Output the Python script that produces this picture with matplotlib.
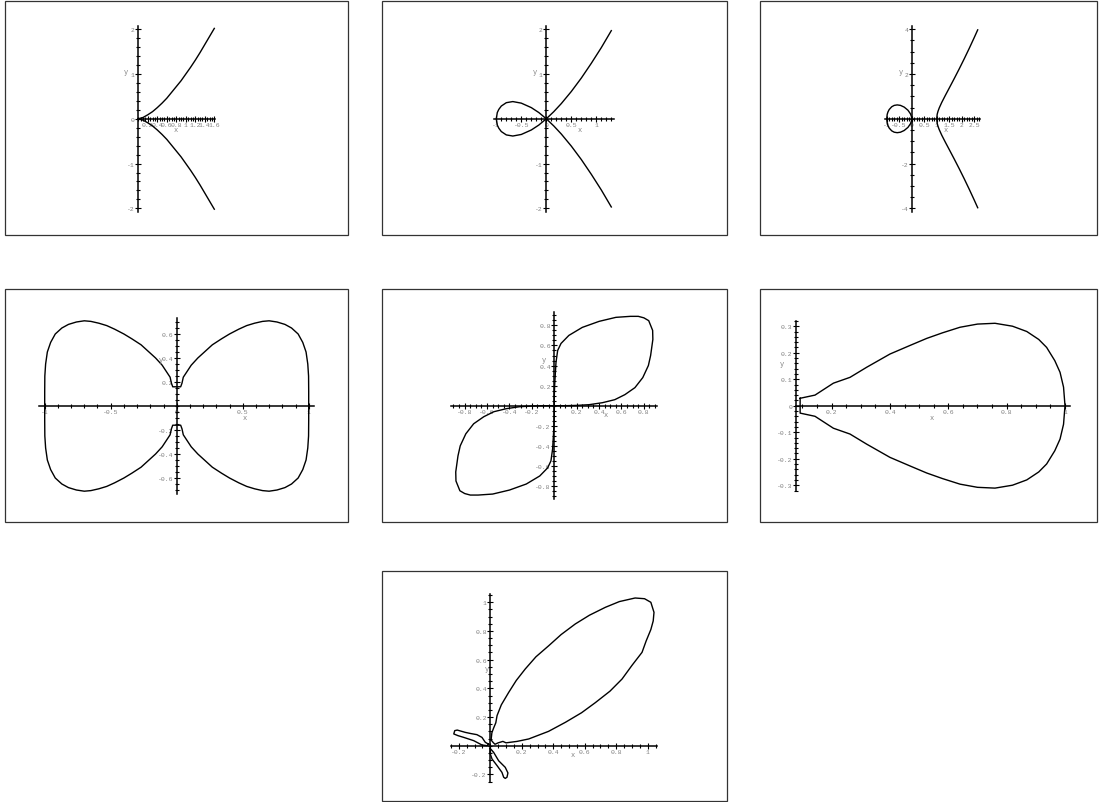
import matplotlib.pyplot as plt
import numpy as np
from matplotlib.patches import Rectangle
from matplotlib.ticker import FixedLocator, MultipleLocator, FuncFormatter

W, H = 1099, 803

# --- curve data -------------------------------------------------------

# cuspidal cubic y^2 = x^3
cusp_x = [0, 0.1, 0.2, 0.3, 0.4, 0.5, 0.6, 0.7, 0.8, 0.9, 1.0, 1.1, 1.2, 1.3, 1.4, 1.5, 1.6]
cusp_up = [0, 0.03, 0.09, 0.16, 0.25, 0.35, 0.46, 0.59, 0.72, 0.85, 1.0, 1.15, 1.31, 1.48, 1.66, 1.84, 2.02]
cusp_lo = [0, -0.03, -0.09, -0.16, -0.25, -0.35, -0.46, -0.59, -0.72, -0.85, -1.0, -1.15, -1.31, -1.48, -1.66, -1.84, -2.02]

# nodal cubic y^2 = x^3 + x^2, traced as one path
node_x = [1.3, 1.1, 0.9, 0.7, 0.5, 0.3, 0.15, 0, -0.15, -0.3, -0.5, -0.67, -0.8, -0.9, -0.95, -0.98, -1.0,
          -0.98, -0.95, -0.9, -0.8, -0.67, -0.5, -0.3, -0.15, 0, 0.15, 0.3, 0.5, 0.7, 0.9, 1.1, 1.3]
node_y = [1.97, 1.59, 1.24, 0.91, 0.61, 0.34, 0.16, 0, -0.14, -0.25, -0.35, -0.385, -0.36, -0.285, -0.21, -0.14, 0,
          0.14, 0.21, 0.285, 0.36, 0.385, 0.35, 0.25, 0.14, 0, -0.16, -0.34, -0.61, -0.91, -1.24, -1.59, -1.97]

# y^2 = x^3 - x : oval and unbounded branch
oval_x = [-1.0, -0.98, -0.95, -0.9, -0.8, -0.7, -0.58, -0.45, -0.3, -0.15, -0.05, -0.01, 0.0]
oval_y = [0.0, 0.197, 0.305, 0.414, 0.537, 0.598, 0.62, 0.599, 0.522, 0.383, 0.223, 0.1, 0.0]
branch_x = [1.0, 1.02, 1.05, 1.1, 1.2, 1.35, 1.5, 1.7, 1.9, 2.1, 2.3, 2.5, 2.64]
branch_y = [0.0, 0.203, 0.328, 0.481, 0.727, 1.054, 1.369, 1.793, 2.227, 2.676, 3.141, 3.623, 3.97]

# butterfly, first quadrant from the gap near the origin out to (1, 0)
fly_x = [0.03, 0.04, 0.05, 0.08, 0.11, 0.16, 0.21, 0.27, 0.34, 0.40, 0.47, 0.53, 0.59, 0.65, 0.70,
         0.76, 0.82, 0.87, 0.92, 0.955, 0.98, 0.993, 0.999, 1.0, 1.0]
fly_y = [0.16, 0.19, 0.24, 0.29, 0.34, 0.40, 0.45, 0.51, 0.56, 0.60, 0.64, 0.67, 0.69, 0.705, 0.71,
         0.70, 0.68, 0.65, 0.60, 0.53, 0.45, 0.35, 0.25, 0.12, 0.0]

# two-leaved curve, first-quadrant leaf
leaf_x = [0, 0.1, 0.2, 0.31, 0.43, 0.54, 0.63, 0.72, 0.79, 0.84, 0.86, 0.88, 0.878, 0.843, 0.80, 0.75,
          0.68, 0.55, 0.40, 0.25, 0.13, 0.06, 0.03, 0.015, 0.008, 0.003, 0.0, 0.0]
leaf_y = [0, 0.0, 0.003, 0.01, 0.03, 0.06, 0.11, 0.18, 0.28, 0.40, 0.50, 0.66, 0.75, 0.847, 0.875, 0.89,
          0.89, 0.88, 0.84, 0.78, 0.70, 0.62, 0.55, 0.43, 0.3, 0.2, 0.1, 0.0]

# pear-shaped quartic, upper half
pear_x = [0.092, 0.092, 0.143, 0.206, 0.263, 0.32, 0.40, 0.47, 0.526, 0.58, 0.64, 0.70, 0.76, 0.82,
          0.869, 0.91, 0.937, 0.965, 0.983, 0.995, 1.0]
pear_y = [0.0, 0.028, 0.040, 0.085, 0.107, 0.145, 0.195, 0.228, 0.254, 0.275, 0.296, 0.308, 0.311, 0.30,
          0.28, 0.25, 0.22, 0.17, 0.126, 0.07, 0.0]

# three-petal curve: large petal and two small ones
petal_x = [0.005, 0.01, 0.02, 0.035, 0.043, 0.07, 0.117, 0.165, 0.222, 0.29, 0.371, 0.45, 0.54, 0.63, 0.731,
           0.82, 0.92, 0.98, 1.02, 1.04, 1.035, 1.02, 0.99, 0.964, 0.90, 0.837, 0.76, 0.667, 0.58, 0.477,
           0.37, 0.244, 0.17, 0.10, 0.08, 0.05, 0.03, 0.02, 0.005]
petal_y = [0.04, 0.09, 0.12, 0.16, 0.21, 0.285, 0.372, 0.455, 0.535, 0.62, 0.697, 0.775, 0.849, 0.91, 0.965,
           1.005, 1.03, 1.025, 1.0, 0.93, 0.87, 0.81, 0.73, 0.651, 0.56, 0.465, 0.38, 0.30, 0.23, 0.163,
           0.10, 0.047, 0.03, 0.02, 0.03, 0.02, 0.01, 0.02, 0.04]
left_petal_x = [-0.01, -0.032, -0.053, -0.085, -0.125, -0.159, -0.21, -0.226, -0.232, -0.205, -0.169,
                -0.105, -0.053, -0.02, -0.01]
left_petal_y = [0.01, 0.024, 0.058, 0.077, 0.085, 0.093, 0.109, 0.105, 0.082, 0.07, 0.058,
                0.035, 0.005, 0.0, 0.01]
low_petal_x = [0.0, 0.021, 0.053, 0.095, 0.112, 0.106, 0.095, 0.085, 0.074, 0.043, 0.011, 0.0, 0.0]
low_petal_y = [-0.02, -0.046, -0.105, -0.151, -0.19, -0.22, -0.228, -0.22, -0.186, -0.139, -0.093,
               -0.058, -0.02]

# --- figure -----------------------------------------------------------

fig = plt.figure(figsize=(W / 100, H / 100), dpi=100)
fig.patch.set_facecolor('white')

boxes = [(5, 2, 348, 236), (382, 2, 727, 236), (760, 2, 1097, 236),
         (5, 290, 348, 523), (382, 290, 727, 523), (760, 290, 1097, 523),
         (382, 572, 727, 802)]
for x0, y0, x1, y1 in boxes:
    fig.add_artist(Rectangle((x0 / W, 1 - y1 / H), (x1 - x0) / W, (y1 - y0) / H,
                             transform=fig.transFigure, fill=False, lw=0.9, ec='#333333'))

fmt = FuncFormatter(lambda v, p: '%g' % v)
GRAY = '#808080'
MONO = 'Liberation Mono'


def panel(ox, oy, sx, sy, xlim, ylim, xmaj, xmin, ymaj, ymin, xlab, ylab, yspine='zero'):
    # ox, oy: pixel of the data origin; sx, sy: pixels per unit
    left = ox + xlim[0] * sx
    right = ox + xlim[1] * sx
    top = oy - ylim[1] * sy
    bottom = oy - ylim[0] * sy
    ax = fig.add_axes([left / W, 1 - bottom / H, (right - left) / W, (bottom - top) / H])
    ax.set_xlim(*xlim)
    ax.set_ylim(*ylim)
    ax.patch.set_visible(False)
    ax.spines['top'].set_visible(False)
    ax.spines['right'].set_visible(False)
    ax.spines['bottom'].set_position('zero')
    if yspine == 'zero':
        ax.spines['left'].set_position('zero')
    for s in ('bottom', 'left'):
        ax.spines[s].set_linewidth(1.1)
    ax.xaxis.set_major_locator(FixedLocator(xmaj))
    ax.yaxis.set_major_locator(FixedLocator(ymaj))
    ax.xaxis.set_minor_locator(MultipleLocator(xmin))
    ax.yaxis.set_minor_locator(MultipleLocator(ymin))
    ax.xaxis.set_major_formatter(fmt)
    ax.yaxis.set_major_formatter(fmt)
    ax.tick_params(which='both', direction='inout', width=0.8, labelsize=4.6,
                   labelcolor=GRAY, pad=0.5)
    ax.tick_params(which='major', length=4)
    ax.tick_params(which='minor', length=3)
    for lab in ax.get_xticklabels() + ax.get_yticklabels():
        lab.set_fontfamily(MONO)
    fig.text(xlab[0] / W, 1 - xlab[1] / H, 'x', fontsize=5, color=GRAY, family=MONO,
             ha='center', va='center')
    fig.text(ylab[0] / W, 1 - ylab[1] / H, 'y', fontsize=5, color=GRAY, family=MONO,
             ha='center', va='center')
    return ax


line = dict(color='black', lw=1.0, clip_on=False)

ax1 = panel(138.3, 119.8, 47.5, 44.75, (0, 1.615), (-2.08, 2.08),
            [0.2, 0.4, 0.6, 0.8, 1, 1.2, 1.4, 1.6], 0.05, [-2, -1, 0, 1, 2], 0.2,
            (176, 130), (126, 72.7))
ax1.plot(cusp_x, cusp_up, **line)
ax1.plot(cusp_x, cusp_lo, **line)

ax2 = panel(546.3, 119.8, 50, 44.75, (-1.04, 1.35), (-2.08, 2.08),
            [-1, -0.5, 0, 0.5, 1], 0.1, [-2, -1, 1, 2], 0.2,
            (579.7, 130), (535, 72.7))
ax2.plot(node_x, node_y, **line)

ax3 = panel(911.7, 119.8, 25, 22.4, (-1.07, 2.73), (-4.15, 4.15),
            [-1, -0.5, 0, 0.5, 1, 1.5, 2, 2.5], 0.1, [-4, -2, 2, 4], 0.5,
            (945.7, 130), (900.7, 72.7))
ox3 = np.array(oval_x)
oy3 = np.array(oval_y)
ax3.plot(np.r_[ox3, ox3[::-1]], np.r_[oy3, -oy3[::-1]], **line)
bx3 = np.array(branch_x)
by3 = np.array(branch_y)
ax3.plot(np.r_[bx3[::-1], bx3], np.r_[by3[::-1], -by3], **line)

ax4 = panel(176.7, 407, 132, 120, (-1.04, 1.04), (-0.73, 0.73),
            [-1, -0.5, 0, 0.5, 1], 0.1, [-0.6, -0.4, -0.2, 0.2, 0.4, 0.6], 0.05,
            (244.3, 419), (161, 361))
fx = np.array(fly_x)
fy = np.array(fly_y)
upper_x = np.r_[-fx[::-1], fx]
upper_y = np.r_[fy[::-1], fy]
ax4.plot(upper_x, upper_y, **line)
ax4.plot(upper_x, -upper_y, **line)

ax5 = panel(554.3, 406.7, 112, 100.4, (-0.92, 0.92), (-0.93, 0.93),
            [-0.8, -0.6, -0.4, -0.2, 0.2, 0.4, 0.6, 0.8], 0.05,
            [-0.8, -0.6, -0.4, -0.2, 0.2, 0.4, 0.6, 0.8], 0.05,
            (605.3, 416), (543.7, 360.7))
lx = np.array(leaf_x)
ly = np.array(leaf_y)
ax5.plot(lx, ly, **line)
ax5.plot(-lx, -ly, **line)

ax6 = panel(773.3, 406.7, 291.7, 265, (0.077, 1.017), (-0.32, 0.32),
            [0.2, 0.4, 0.6, 0.8, 1], 0.05, [-0.3, -0.2, -0.1, 0, 0.1, 0.2, 0.3], 0.02,
            (931.7, 419), (781.7, 365), yspine='edge')
px6 = np.array(pear_x[1:])
py6 = np.array(pear_y[1:])
ax6.plot(np.r_[px6, px6[::-1], px6[:1]], np.r_[py6, -py6[::-1], py6[:1]], **line)

ax7 = panel(490.3, 746.7, 157.4, 143.4, (-0.25, 1.06), (-0.25, 1.06),
            [-0.2, 0, 0.2, 0.4, 0.6, 0.8, 1], 0.05, [-0.2, 0.2, 0.4, 0.6, 0.8, 1], 0.05,
            (573, 756), (487, 670))
ax7.plot(petal_x, petal_y, **line)
ax7.plot(left_petal_x, left_petal_y, **line)
ax7.plot(low_petal_x, low_petal_y, **line)

fig.savefig('out.png', dpi=100)
